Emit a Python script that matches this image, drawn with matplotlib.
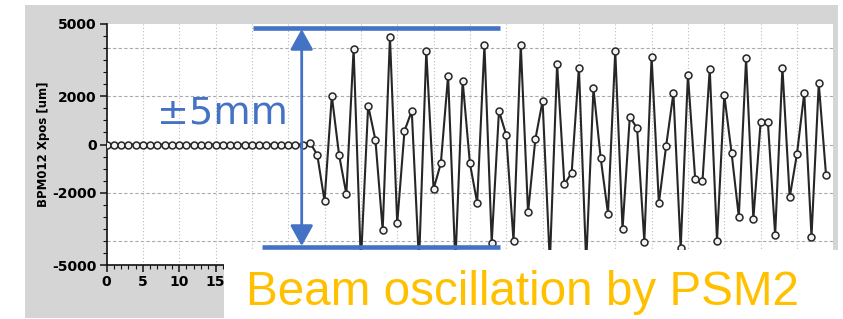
import numpy as np
import matplotlib
matplotlib.use("Agg")
import matplotlib.pyplot as plt
from matplotlib.patches import Rectangle, FancyArrowPatch
from matplotlib.ticker import MultipleLocator

# ---- data ----
turns = list(range(100))
xpos_um = [0] * 28 + [
    80, -430, -2340, 2010, -430, -2050, 3950, -4900, 1610, 190,
    -3540, 4450, -3260, 560, 1390, -4900, 3870, -1840, -780, 2850,
    -4900, 2640, -780, -2410, 4120, -4060, 1390, 390, -3990, 4120,
    -2810, 210, 1800, -4900, 3320, -1650, -1170, 3180, -4900, 2320,
    -570, -2860, 3870, -3510, 1150, 670, -4020, 3630, -2430, -60,
    2120, -4300, 2880, -1440, -1510, 3120, -3980, 2050, -340, -2990,
    3560, -3080, 920, 920, -3740, 3180, -2190, -390, 2120, -3810,
    2530, -1260,
]
y_ticks = [-5000, -2000, 0, 2000, 5000]
y_grid = [-4000, -2000, 0, 2000, 4000]
x_ticks = [0, 5, 10, 15]          # the only x labels left visible
x_grid = list(range(5, 100, 5))
y_label = "BPM012 Xpos [um]"
range_label = "\u00b15mm"
caption = "Beam oscillation by PSM2"

W, H = 843, 319
fig = plt.figure(figsize=(W / 100, H / 100), dpi=100)
fig.patch.set_facecolor("white")

# background (scanned paper look)
bg = fig.add_axes([0, 0, 1, 1], zorder=0)
bg.set_xlim(0, W); bg.set_ylim(H, 0); bg.axis("off")
bg.add_patch(Rectangle((25, 5), 813, 313, facecolor="#d5d5d5", edgecolor="none"))

# main chart axes
x0, x1 = 106.5, 833.3
ytop, ybot = 23.6, 265.4
ax = fig.add_axes([x0 / W, (H - ybot) / H, (x1 - x0) / W, (ybot - ytop) / H], zorder=1)
ax.set_facecolor("white")
ax.set_xlim(0, 100)
ax.set_ylim(-5000, 5000)
for s in ("top", "right"):
    ax.spines[s].set_visible(False)
for s in ("left", "bottom"):
    ax.spines[s].set_color("#111111")
    ax.spines[s].set_linewidth(1.2)

ax.set_yticks(y_ticks)
ax.yaxis.set_minor_locator(MultipleLocator(500))
ax.set_xticks(x_ticks)
ax.xaxis.set_minor_locator(MultipleLocator(1))
tick_font = dict(family=["Liberation Sans Narrow", "DejaVu Sans"], weight="bold", size=10)
ax.set_yticklabels([str(v) for v in y_ticks], fontdict=tick_font)
ax.set_xticklabels([str(v) for v in x_ticks], fontdict=tick_font)
ax.tick_params(axis="both", which="major", length=5, width=1.1, color="#111111", pad=2)
ax.tick_params(axis="both", which="minor", length=3, width=0.8, color="#111111")
ax.set_ylabel(y_label, fontdict=dict(family=["Liberation Sans Narrow", "DejaVu Sans"],
                                     weight="bold", size=8.5), labelpad=2)

for gy in y_grid:
    ax.axhline(gy, color="#aaaaaa", lw=0.8, ls=(0, (3, 2)), zorder=1)
for gx in x_grid:
    ax.axvline(gx, color="#bbbbbb", lw=0.8, ls=(0, (1, 2)), zorder=1)

ax.plot(turns, xpos_um, color="#262626", lw=1.5, marker="o", ms=5,
        mfc="#f2f2f2", mec="#262626", mew=1.1, zorder=3)

# overlay annotations
ov = fig.add_axes([0, 0, 1, 1], zorder=2)
ov.set_xlim(0, W); ov.set_ylim(H, 0); ov.axis("off")
ov.patch.set_alpha(0)
ov.add_patch(Rectangle((224, 250), W - 224, H - 250, facecolor="white", edgecolor="none"))
blue = "#4472C4"
ov.plot([253, 500], [28, 28], color=blue, lw=3.3, solid_capstyle="butt")
ov.plot([262, 500], [247, 247], color=blue, lw=3.3, solid_capstyle="butt")
ov.add_patch(FancyArrowPatch((301.7, 29), (301.7, 246), arrowstyle="<|-|>,head_length=9,head_width=5",
                             mutation_scale=1.4, color=blue, lw=2.0, shrinkA=0, shrinkB=0))
ov.text(157, 124, range_label, color=blue, fontsize=27.5, family="DejaVu Sans",
        ha="left", va="baseline")
ov.text(246, 305, caption, color="#FFC000", fontsize=34.3, family="Liberation Sans",
        ha="left", va="baseline")

fig.savefig("out.png", dpi=100)
